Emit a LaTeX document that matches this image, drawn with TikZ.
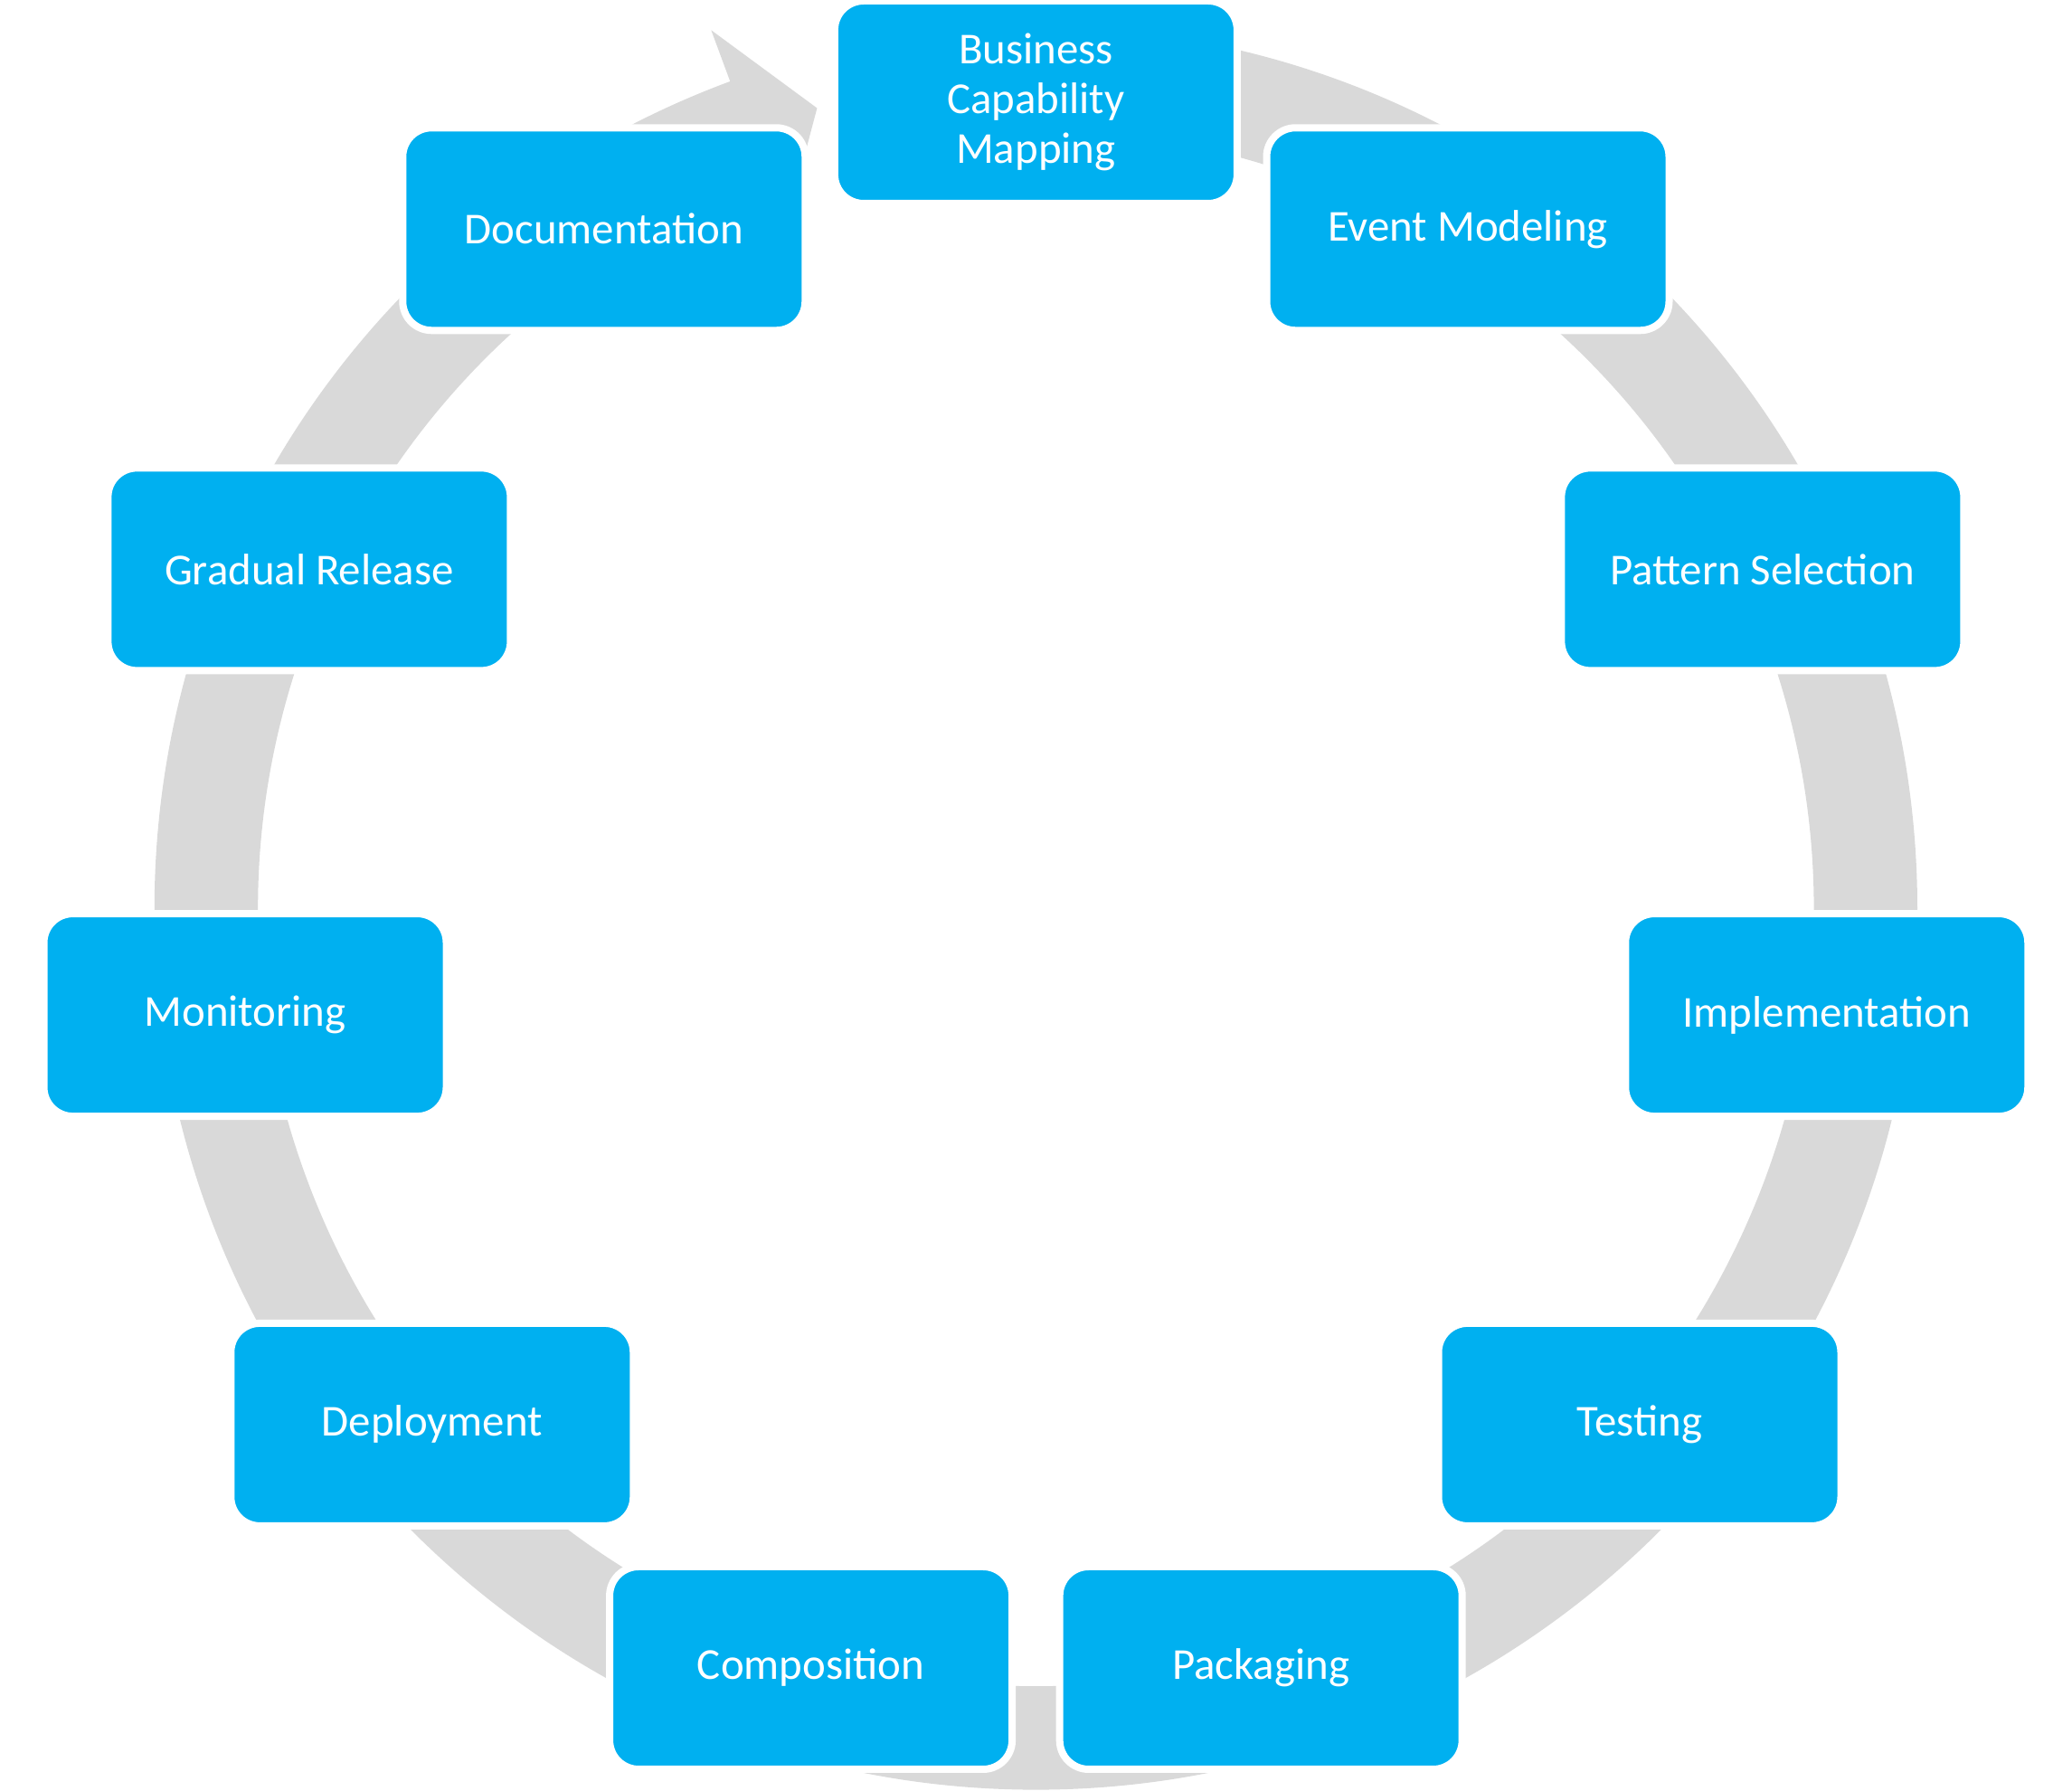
\documentclass[tikz,border=0pt]{standalone}
\usepackage{fontspec}
\setmainfont{Carlito}
\usepackage{tikz}
\definecolor{stageblue}{RGB}{0,176,240}
\definecolor{ringgray}{RGB}{217,217,217}

\begin{document}
\begin{tikzpicture}[stage/.style={rectangle,rounded corners=3.2mm,fill=stageblue,draw=white,line width=0.8mm,minimum width=44.5mm,minimum height=22.4mm,inner sep=1mm,align=center,text=white,font=\fontsize{13.9}{15.6}\selectfont}]
  \useasboundingbox (-11.454,-9.76) rectangle (11.456,10.04);
  \fill[ringgray] (90:9.746) arc[start angle=90,end angle=-249.7,radius=9.746]
    -- (110.3:10.35) -- (105.3:9.17) -- (110.3:8.0) -- (110.3:8.6)
    arc[start angle=-249.7,end angle=90,radius=8.6] -- cycle;
  \begin{scope}[yshift=0.76mm]
  \node[stage] (s0) at (90.0:8.834) {Business\\Capability\\Mapping};
  \node[stage] (s1) at (57.27:8.834) {Event Modeling};
  \node[stage] (s2) at (24.55:8.834) {Pattern Selection};
  \node[stage] (s3) at (-8.18:8.834) {Implementation};
  \node[stage] (s4) at (-40.91:8.834) {Testing};
  \node[stage] (s5) at (-73.64:8.834) {Packaging};
  \node[stage] (s6) at (-106.36:8.834) {Composition};
  \node[stage] (s7) at (-139.09:8.834) {Deployment};
  \node[stage] (s8) at (-171.82:8.834) {Monitoring};
  \node[stage] (s9) at (-204.55:8.834) {Gradual Release};
  \node[stage] (s10) at (-237.27:8.834) {Documentation};
  \end{scope}
\end{tikzpicture}
\end{document}
